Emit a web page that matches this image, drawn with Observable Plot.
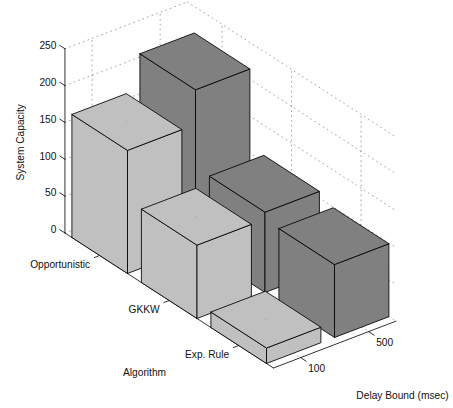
<!DOCTYPE html>
<html>
<head>
<meta charset="utf-8">
<script src="https://cdn.jsdelivr.net/npm/d3@7"></script>
<script src="https://cdn.jsdelivr.net/npm/@observablehq/plot@0.6"></script>
<style>html,body{margin:0;padding:0;background:#fff}svg{display:block}</style>
</head>
<body>
<script>
const algorithms = ["Opportunistic", "GKKW", "Exp. Rule"];
const delays = ["100", "500"];
const capacity100 = [167, 99.5, 21];
const capacity500 = [214, 109, 99];
const capacityTicks = [0, 50, 100, 150, 200, 250];
const shades = ["#c0c0c0", "#808080"];

const algoRange = [-0.5, 2.5], delayRange = [-0.4, 1.4];
const barHalf = 0.4;

// oblique view of (algorithm index, delay index, capacity)
const view = {x0: 126.4, y0: 244.6, ax: 69.5, ay: 45, dx: 68, dy: -26, k: 0.737};
const project = (i, j, z = 0) => ({
  x: view.x0 + view.ax * i + view.dx * j,
  y: view.y0 + view.ay * i + view.dy * j - view.k * z
});

const seg = (id, pts) => pts.map(p => ({id, ...project(...p)}));
const [a0, a1] = algoRange, [d0, d1] = delayRange, zTop = capacityTicks.at(-1);

// back walls and floor grid
const grid = [
  ...capacityTicks.flatMap(z => [
    ...seg(`L${z}`, [[a0, d0, z], [a0, d1, z]]),
    ...seg(`B${z}`, [[a0, d1, z], [a1, d1, z]])
  ]),
  ...delays.flatMap((_, j) => [
    ...seg(`LV${j}`, [[a0, j, 0], [a0, j, zTop]]),
    ...seg(`FD${j}`, [[a0, j, 0], [a1, j, 0]])
  ]),
  ...algorithms.flatMap((_, i) => [
    ...seg(`BV${i}`, [[i, d1, 0], [i, d1, zTop]]),
    ...seg(`FA${i}`, [[i, d0, 0], [i, d1, 0]])
  ])
];

const axes = [
  ...seg("z", [[a0, d0, 0], [a0, d0, zTop]]),
  ...seg("alg", [[a0, d0, 0], [a1, d0, 0]]),
  ...seg("del", [[a1, d0, 0], [a1, d1, 0]]),
  ...capacityTicks.flatMap(z => seg(`tz${z}`, [[a0, d0, z], [a0 - 0.075, d0, z]])),
  ...algorithms.flatMap((_, i) => seg(`ta${i}`, [[i, d0, 0], [i, d0 - 0.08, 0]])),
  ...delays.flatMap((_, j) => seg(`td${j}`, [[a1, j, 0], [a1 + 0.08, j, 0]]))
];

function barFaces(i, j, v) {
  const i0 = i - barHalf, i1 = i + barHalf, j0 = j - barHalf, j1 = j + barHalf;
  return [
    ...seg("left", [[i0, j0, 0], [i1, j0, 0], [i1, j0, v], [i0, j0, v], [i0, j0, 0]]),
    ...seg("right", [[i1, j0, 0], [i1, j1, 0], [i1, j1, v], [i1, j0, v], [i1, j0, 0]]),
    ...seg("top", [[i0, j0, v], [i1, j0, v], [i1, j1, v], [i0, j1, v], [i0, j0, v]])
  ];
}

const capacity = [capacity100, capacity500];
const barOrder = algorithms.flatMap((_, i) => [1, 0].map(j => ({i, j, v: capacity[j][i]})));

const centres = barOrder.map(b => project(b.i, b.j, b.v));

const zLabels = capacityTicks.map(z => ({label: String(z), ...project(a0, d0, z)}));
const algoLabels = algorithms.map((label, i) => ({label, ...project(i, d0, 0)}));
const delayLabels = delays.map((label, j) => ({label, ...project(a1, j, 0)}));

const font = {fontSize: 10.2, fill: "#111", lineAnchor: "middle"};

const chart = Plot.plot({
  width: 453, height: 408,
  marginTop: 0, marginRight: 0, marginBottom: 0, marginLeft: 0,
  x: {domain: [0, 453], range: [0, 453], axis: null},
  y: {domain: [0, 408], range: [0, 408], axis: null},
  style: {fontFamily: "'Liberation Sans', Arial, sans-serif", background: "#fff"},
  marks: [
    Plot.line(grid, {x: "x", y: "y", z: "id", stroke: "#666", strokeWidth: 0.6, strokeDasharray: "0.9,4"}),
    Plot.line(axes, {x: "x", y: "y", z: "id", stroke: "#000", strokeWidth: 0.8}),
    ...barOrder.map(b => Plot.line(barFaces(b.i, b.j, b.v), {
      x: "x", y: "y", z: "id", fill: shades[b.j], stroke: "#000",
      strokeWidth: 0.85, strokeLinejoin: "round"
    })),
    Plot.dot(centres, {x: "x", y: "y", r: 0.5, fill: "#999", stroke: "none"}),
    Plot.text(zLabels, {x: "x", y: "y", text: "label", textAnchor: "end", dx: -8.5, dy: -3, ...font}),
    Plot.text(algoLabels, {x: "x", y: "y", text: "label", textAnchor: "end", dx: -9.5, dy: 9.5, ...font}),
    Plot.text(delayLabels, {x: "x", y: "y", text: "label", textAnchor: "start", dx: 7.5, dy: 11.5, ...font}),
    Plot.text([{label: "Algorithm", ...project(1.874, -1.656, 0)}], {x: "x", y: "y", text: "label", ...font}),
    Plot.text([{label: "Delay Bound (msec)", ...project(3.583, 0.391, 0)}], {x: "x", y: "y", text: "label", ...font}),
    Plot.text([{label: "System Capacity", ...project(a0, d0, 123)}], {x: "x", y: "y", text: "label", rotate: -90, dx: -44.5, ...font})
  ]
});
document.body.appendChild(chart);
</script>
</body>
</html>
